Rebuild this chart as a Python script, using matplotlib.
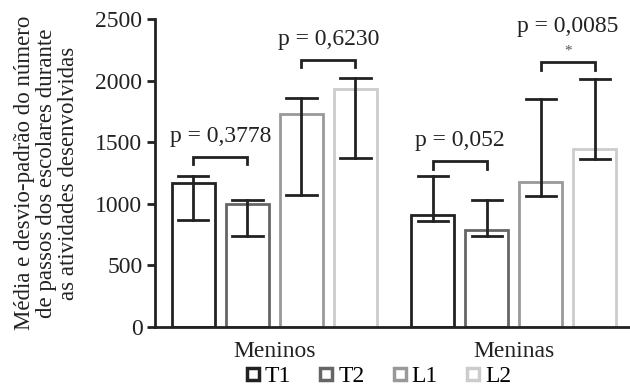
import matplotlib.pyplot as plt
import numpy as np
from matplotlib.lines import Line2D

plt.rcParams['font.family'] = ['Liberation Serif', 'DejaVu Serif']

groups = ["Meninos", "Meninas"]
series = ["T1", "T2", "L1", "L2"]
colors = ["#222222", "#666666", "#999999", "#cccccc"]

# mean per series, one value per group
means = {
    "T1": [1169, 909],
    "T2": [998, 787],
    "L1": [1729, 1177],
    "L2": [1932, 1445],
}
err_low = {
    "T1": [868, 860],
    "T2": [739, 739],
    "L1": [1071, 1063],
    "L2": [1372, 1364],
}
err_high = {
    "T1": [1226, 1226],
    "T2": [1031, 1031],
    "L1": [1859, 1851],
    "L2": [2021, 2013],
}

# (group, first series, second series, bracket height, label, star)
comparisons = [
    (0, 0, 1, 1380, "p = 0,3778", False),
    (0, 2, 3, 2170, "p = 0,6230", False),
    (1, 0, 1, 1347, "p = 0,052", False),
    (1, 2, 3, 2150, "p = 0,0085", True),
]

fig = plt.figure(figsize=(6.3, 3.91), dpi=100)
ax = fig.add_axes([0.246, 0.1637, 0.754, 0.7873])

group_x = np.array([0, 4.43])
width = 0.8

def xpos(g, s):
    return group_x[g] + s

for s, name in enumerate(series):
    xs = group_x + s
    ax.bar(xs, means[name], width=width, facecolor="white",
           edgecolor=colors[s], linewidth=2, zorder=2)
    for g in range(len(groups)):
        ax.plot([xs[g], xs[g]], [err_low[name][g], err_high[name][g]],
                color="#222222", lw=2, zorder=3)
        for yv in (err_low[name][g], err_high[name][g]):
            ax.plot([xs[g] - 0.28, xs[g] + 0.28], [yv, yv],
                    color="#222222", lw=2, zorder=3)

for g, a, b, h, label, star in comparisons:
    x1, x2 = xpos(g, a), xpos(g, b)
    ax.plot([x1, x1, x2, x2], [h - 60, h, h, h - 60], color="#222222", lw=2,
            solid_joinstyle="miter")
    if star:
        ax.text((x1 + x2) / 2, h + 35, "*", ha="center", va="bottom",
                fontsize=11, color="#555555")
        ax.text((x1 + x2) / 2, h + 205, label, ha="center", va="bottom",
                fontsize=17, color="#222222")
    else:
        ax.text((x1 + x2) / 2, h + 80, label, ha="center", va="bottom",
                fontsize=17, color="#222222")

ax.set_ylim(0, 2500)
ax.set_xlim(-0.71, 8.08)
ax.set_yticks([0, 500, 1000, 1500, 2000, 2500])
ax.set_xticks(group_x + 1.5)
ax.set_xticklabels(groups)
ax.tick_params(axis="x", length=0, labelsize=17, pad=10, colors="#222222")
ax.tick_params(axis="y", length=6, width=2, labelsize=17, pad=3, colors="#222222")
for sp in ["top", "right"]:
    ax.spines[sp].set_visible(False)
for sp in ["left", "bottom"]:
    ax.spines[sp].set_linewidth(2)
    ax.spines[sp].set_color("#222222")

ax.set_ylabel("Média e desvio-padrão do número\nde passos dos escolares durante\nas atividades desenvolvidas",
              fontsize=16.5, color="#222222", linespacing=1.05, labelpad=12)

handles = [Line2D([], [], marker="s", linestyle="none", markersize=8,
                  markerfacecolor="white", markeredgecolor=c, markeredgewidth=2.5)
           for c in colors]
fig.legend(handles, series, loc="lower center", ncol=4, frameon=False,
           fontsize=17, handletextpad=0.15, columnspacing=1.15,
           bbox_to_anchor=(0.6, -0.045), handlelength=0.7)

fig.savefig("out.png", dpi=100)
